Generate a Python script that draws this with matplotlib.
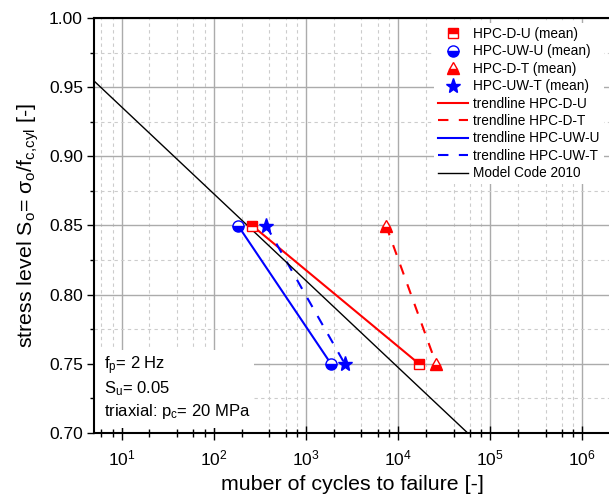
import matplotlib
matplotlib.use("Agg")
import matplotlib.pyplot as plt
from matplotlib.patches import Rectangle
from matplotlib.ticker import LogLocator, MultipleLocator, FormatStrFormatter, NullFormatter

plt.rcParams['font.family'] = ['Liberation Sans', 'DejaVu Sans']
plt.rcParams['mathtext.fontset'] = 'custom'
plt.rcParams['mathtext.rm'] = 'Liberation Sans'
plt.rcParams['mathtext.it'] = 'Liberation Sans:italic'
plt.rcParams['mathtext.bf'] = 'Liberation Sans:bold'
plt.rcParams['mathtext.sf'] = 'Liberation Sans'

# ---- data ----
stress_levels = [0.85, 0.75]
N_D_U = [260, 16900]
N_UW_U = [183, 1870]
N_D_T = [7400, 25900]
N_UW_T = [369, 2640]
mc_N = [5, 57000]
mc_S = [0.9545, 0.70]

labels_mean = ["HPC-D-U (mean)", "HPC-UW-U (mean)", "HPC-D-T (mean)", "HPC-UW-T (mean)"]
labels_trend = ["trendline HPC-D-U", "trendline HPC-D-T", "trendline HPC-UW-U", "trendline HPC-UW-T"]
label_mc = "Model Code 2010"

RED = '#ff0000'
BLUE = '#0000ff'

fig = plt.figure(figsize=(6.09, 5.0), dpi=100)
ax = fig.add_axes([94/609, 67/500, 516/609, 415/500])
ax.set_xscale('log')
ax.set_xlim(5, 2e6)
ax.set_ylim(0.70, 1.00)

# grid
ax.set_axisbelow(True)
ax.xaxis.set_major_locator(LogLocator(base=10, numticks=20))
ax.xaxis.set_minor_locator(LogLocator(base=10, subs=(2, 4, 6, 8), numticks=20))
ax.xaxis.set_minor_formatter(NullFormatter())
ax.yaxis.set_major_locator(MultipleLocator(0.05))
ax.yaxis.set_minor_locator(MultipleLocator(0.025))
ax.yaxis.set_major_formatter(FormatStrFormatter('%.2f'))
ax.grid(True, which='major', color='#ababab', lw=1.0, ls='-')
ax.grid(True, which='minor', color='#cccccc', lw=0.8, ls=(0, (3, 3)))

# white box behind annotation text (hides grid)
ax.add_patch(Rectangle((5, 0.7035), 272 - 5, 0.76 - 0.7035, facecolor='white',
                       edgecolor='none', zorder=0.8))

# trendlines
l1, = ax.plot(N_D_U, stress_levels, color=RED, lw=1.5, ls='-', zorder=3)
l2, = ax.plot(N_D_T, stress_levels, color=RED, lw=1.5, ls=(0, (5, 5)), zorder=3)
l3, = ax.plot(N_UW_U, stress_levels, color=BLUE, lw=1.5, ls='-', zorder=3)
l4, = ax.plot(N_UW_T, stress_levels, color=BLUE, lw=1.5, ls=(0, (5, 5)), zorder=3)
l5, = ax.plot(mc_N, mc_S, color='black', lw=1.0, zorder=3)

# markers
m1, = ax.plot(N_D_U, stress_levels, ls='none', marker='s', ms=7.5, color=RED, mfc=RED,
              fillstyle='top', markerfacecoloralt='white', mec=RED, mew=1, zorder=4)
m2, = ax.plot(N_UW_U, stress_levels, ls='none', marker='o', ms=8, color=BLUE, mfc=BLUE,
              fillstyle='bottom', markerfacecoloralt='white', mec=BLUE, mew=1, zorder=4)
m3, = ax.plot(N_D_T, stress_levels, ls='none', marker='^', ms=9, color=RED, mfc=RED,
              fillstyle='bottom', markerfacecoloralt='white', mec=RED, mew=1, zorder=4)
m4, = ax.plot(N_UW_T, stress_levels, ls='none', marker='*', ms=11, color=BLUE, mfc=BLUE,
              mec=BLUE, mew=1, zorder=4)

# ticks
ax.tick_params(axis='x', which='major', direction='inout', length=10, width=1, labelsize=12.5, pad=6)
ax.tick_params(axis='x', which='minor', direction='inout', length=6, width=1)
ax.tick_params(axis='y', which='major', direction='out', length=5, width=1, labelsize=12.5, pad=3)
ax.tick_params(axis='y', which='minor', direction='out', length=3, width=1)
for s in ['left', 'bottom', 'top']:
    ax.spines[s].set_linewidth(1.5)
ax.spines['right'].set_visible(False)

ax.set_xlabel("muber of cycles to failure [-]", fontsize=15.4, labelpad=5)
ax.set_ylabel("stress level S$_\\mathrm{o}$= σ$_\\mathrm{o}$/f$_\\mathrm{c{,}cyl}$ [-]", fontsize=15.4, labelpad=6)

# annotation text
ax.text(0.02, 0.161, "f$_\\mathrm{p}$= 2 Hz", transform=ax.transAxes, fontsize=12, va='center', zorder=5)
ax.text(0.02, 0.106, "S$_\\mathrm{u}$= 0.05", transform=ax.transAxes, fontsize=12, va='center', zorder=5)
ax.text(0.02, 0.051, "triaxial: p$_\\mathrm{c}$= 20 MPa", transform=ax.transAxes, fontsize=12, va='center', zorder=5)

handles = [m1, m2, m3, m4, l1, l2, l3, l4, l5]
labels = labels_mean + labels_trend + [label_mc]
leg = ax.legend(handles, labels, loc='upper left', bbox_to_anchor=(434/609, 1 - 23/500),
                bbox_transform=fig.transFigure, fontsize=9.8, frameon=True, fancybox=False,
                edgecolor='none', facecolor='white', framealpha=1, borderpad=0.3,
                labelspacing=0.25, handlelength=2.2, handletextpad=0.37, borderaxespad=0)
leg.set_zorder(10)

fig.savefig("out.png", dpi=100)
